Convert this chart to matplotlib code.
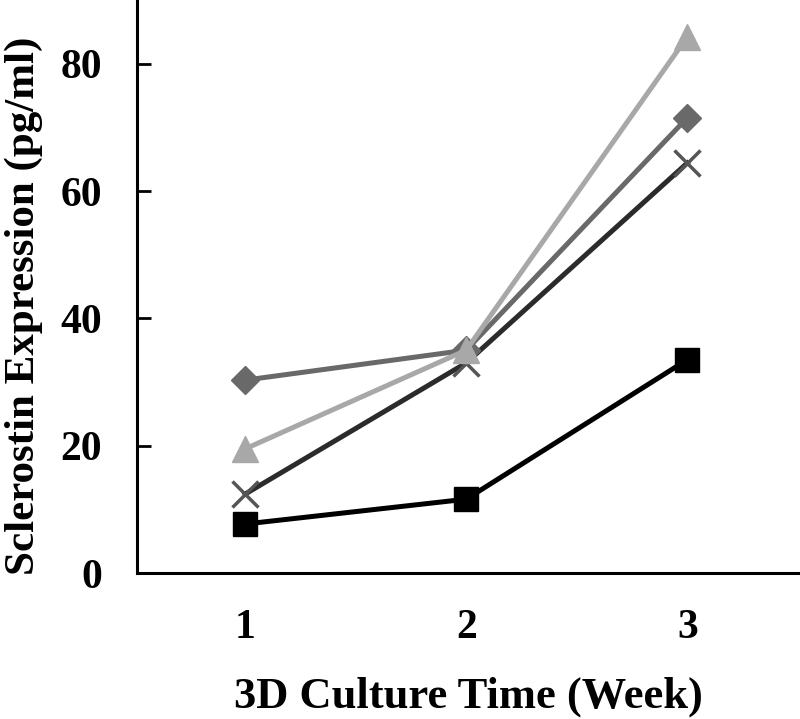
import matplotlib
matplotlib.use("Agg")
import matplotlib.pyplot as plt

# Sclerostin expression over 3D culture time
weeks = [1, 2, 3]
series_diamond = [30.3, 35.0, 71.5]
series_triangle = [19.5, 35.0, 84.2]
series_cross = [12.4, 33.0, 64.4]
series_square = [7.7, 11.6, 33.5]

yticks = [0, 20, 40, 60, 80]

plt.rcParams['font.family'] = ['Liberation Serif', 'DejaVu Serif']
plt.rcParams['font.weight'] = 'bold'

fig = plt.figure(figsize=(8, 7.19), dpi=100)
ax = fig.add_axes([0.171, 0.203, 0.829, 0.797])

lw = 3.6
ax.plot(weeks, series_square, color='black', lw=lw, marker='s', ms=17.5, zorder=3)
ax.plot(weeks, series_cross, color='#2b2b2b', lw=lw, marker='x', ms=19,
        mew=2.5, mec='#555555', zorder=3)
ax.plot(weeks, series_diamond, color='#696969', lw=lw, marker='D', ms=14, zorder=4)
ax.plot(weeks, series_triangle, color='#a8a8a8', lw=lw, marker='^', ms=19, zorder=5)

ax.set_xlim(0.51, 3.51)
ax.set_ylim(0, 90)
ax.set_xticks(weeks)
ax.set_yticks(yticks)

for side in ['top', 'right']:
    ax.spines[side].set_visible(False)
for side in ['left', 'bottom']:
    ax.spines[side].set_linewidth(2.2)

ax.tick_params(axis='x', length=0, pad=26, labelsize=30)
ax.tick_params(axis='y', direction='in', length=10, width=2, pad=25, labelsize=30)

ax.set_xlabel('3D Culture Time (Week)', fontsize=32, fontweight='bold', labelpad=21)
ax.set_ylabel('Sclerostin Expression (pg/ml)', fontsize=31, fontweight='bold')
ax.yaxis.set_label_coords(-0.142, 0.466)

fig.savefig('out.png', dpi=100)
